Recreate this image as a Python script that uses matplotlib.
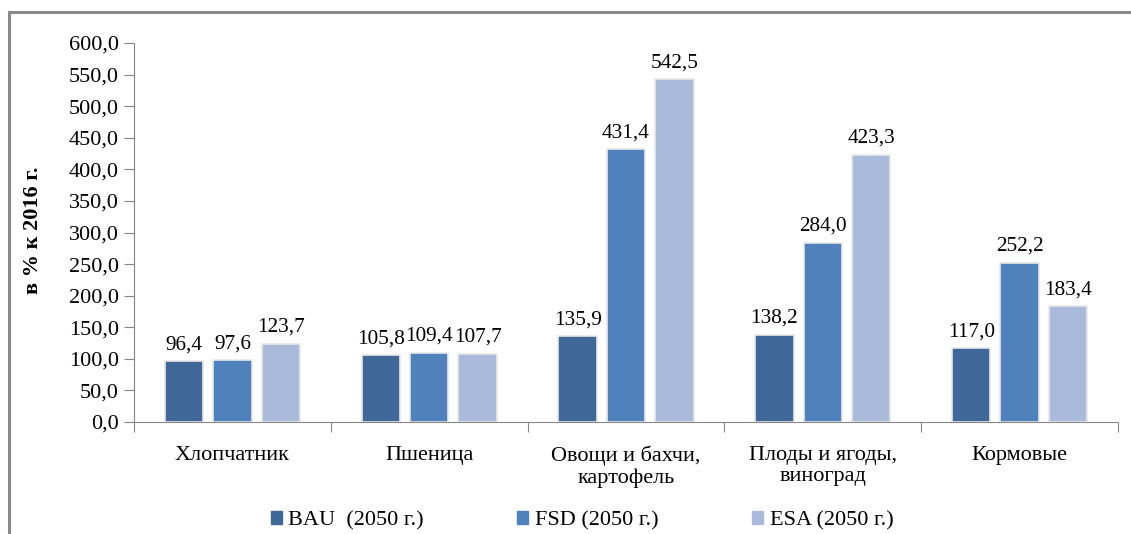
import numpy as np
import matplotlib.pyplot as plt
from matplotlib.patches import Rectangle
from matplotlib.lines import Line2D

categories = ["Хлопчатник", "Пшеница", "Овощи и бахчи,\nкартофель",
              "Плоды и ягоды,\nвиноград", "Кормовые"]
series_names = ["BAU  (2050 г.)", "FSD (2050 г.)", "ESA (2050 г.)"]
bau = [96.4, 105.8, 135.9, 138.2, 117.0]
fsd = [97.6, 109.4, 431.4, 284.0, 252.2]
esa = [123.7, 107.7, 542.5, 423.3, 183.4]
colors = ["#3F6797", "#4F81BD", "#AABADB"]

plt.rcParams["font.family"] = ["Liberation Serif", "DejaVu Serif"]
FS = 16

W, H = 1131, 534
fig = plt.figure(figsize=(W / 100, H / 100), dpi=100)
ax = fig.add_axes([134 / W, 1 - 422 / H, (1118 - 134) / W, (422 - 43) / H])

x = np.arange(len(categories))
step = 0.246
width = 0.195
handles = []
for i, (vals, c) in enumerate(zip([bau, fsd, esa], colors)):
    pos = x + (i - 1) * step
    bars = ax.bar(pos, vals, width=width, color=c, edgecolor="#E8E8E8", linewidth=1.2)
    for b, v in zip(bars, vals):
        ax.annotate(f"{v:.1f}".replace(".", ","), (b.get_x() + b.get_width() / 2, v),
                    xytext=(0, 5), textcoords="offset points",
                    ha="center", va="bottom", fontsize=15.3)
    handles.append(Rectangle((0, 0), 1, 1, color=c))

ax.set_xlim(-0.5, len(categories) - 0.5)
ax.set_ylim(0, 600)
ax.set_yticks(np.arange(0, 601, 50))
ax.set_yticklabels([f"{t:.1f}".replace(".", ",") for t in np.arange(0, 601, 50)], fontsize=FS)
ax.set_xticks(np.arange(-0.5, len(categories), 1))
ax.set_xticklabels([])
ax.set_xticks(x, minor=True)
ax.set_xticklabels(categories, minor=True, linespacing=1.15, fontsize=FS)
ax.tick_params(axis="x", which="minor", length=0, pad=17)
ax.tick_params(axis="x", which="major", length=7, color="#868686")
ax.tick_params(axis="y", length=7, color="#868686", pad=4)
for s in ["top", "right"]:
    ax.spines[s].set_visible(False)
for s in ["left", "bottom"]:
    ax.spines[s].set_color("#868686")

fig.text(33 / W, 1 - 230 / H, "в % к 2016 г.", rotation=90, ha="center", va="center",
         fontweight="bold", fontsize=FS)

fig.legend(handles, series_names, loc="center", bbox_to_anchor=(582 / W, 1 - 521 / H),
           ncol=3, frameon=False, handlelength=0.5, handleheight=0.5,
           handletextpad=0.3, columnspacing=4.2, fontsize=FS)

# outer frame (cropped at right and bottom)
fig.add_artist(Line2D([9 / W, 1.0], [1 - 12 / H, 1 - 12 / H], color="#8A8A8A", linewidth=2.2))
fig.add_artist(Line2D([9 / W, 9 / W], [0, 1 - 12 / H], color="#8A8A8A", linewidth=2.2))

fig.savefig("out.png", dpi=100)
